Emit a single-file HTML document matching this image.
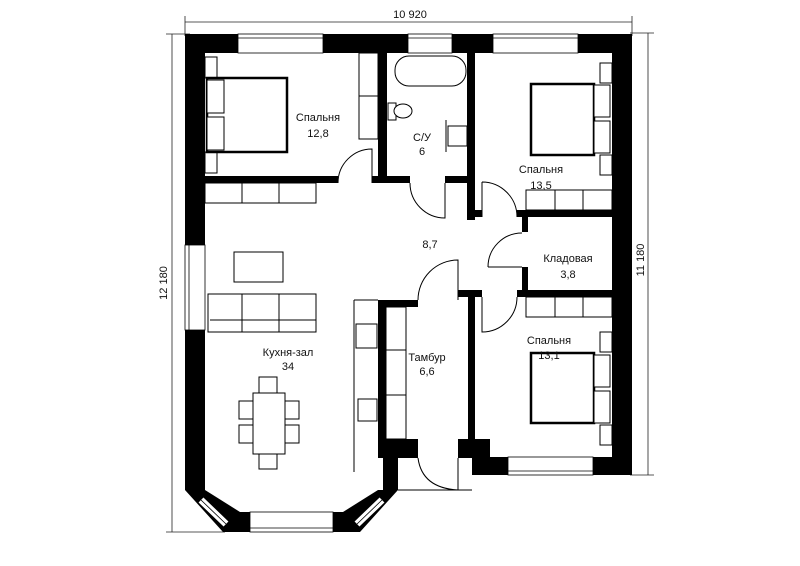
<!DOCTYPE html>
<html><head><meta charset="utf-8"><style>
html,body{margin:0;padding:0;background:#fff;}
svg{display:block;}
text{font-family:"Liberation Sans",sans-serif;font-size:11px;fill:#111;text-anchor:middle;}
</style></head><body>
<svg width="800" height="566" viewBox="0 0 800 566" xmlns="http://www.w3.org/2000/svg">
<rect width="800" height="566" fill="#fff"/>
<g stroke="#222" stroke-width="0.8" fill="none">
<line x1="185" y1="22" x2="632" y2="22"/><line x1="185" y1="16" x2="185" y2="36"/><line x1="632" y1="16" x2="632" y2="36"/>
<line x1="172" y1="34" x2="172" y2="532"/><line x1="166" y1="34" x2="190" y2="34"/><line x1="166" y1="532" x2="225" y2="532"/>
<line x1="648" y1="33" x2="648" y2="475"/><line x1="630" y1="33" x2="654" y2="33"/><line x1="630" y1="475" x2="654" y2="475"/>
</g>
<text x="410" y="18">10 920</text>
<text x="0" y="0" transform="translate(167,283) rotate(-90)">12 180</text>
<text x="0" y="0" transform="translate(644,260) rotate(-90)">11 180</text>

<g fill="#000">
<rect x="185" y="34" width="447" height="19"/>
<rect x="185" y="34" width="20" height="456"/>
<rect x="612" y="34" width="20" height="441"/>
<rect x="472" y="457" width="160" height="18"/>
<rect x="458" y="439" width="32" height="19"/>
<rect x="472" y="439" width="18" height="36"/>
<rect x="378" y="53" width="9" height="130"/>
<rect x="467" y="53" width="8" height="167"/>
<rect x="205" y="176" width="133" height="7"/>
<rect x="372" y="176" width="38" height="7"/>
<rect x="445" y="176" width="23" height="7"/>
<rect x="467" y="210" width="15" height="7"/>
<rect x="517" y="210" width="95" height="7"/>
<rect x="522" y="210" width="6" height="22"/>
<rect x="522" y="267" width="6" height="30"/>
<rect x="517" y="290" width="95" height="7"/>
<rect x="458" y="290" width="24" height="7"/>
<rect x="468" y="290" width="7" height="160"/>
<rect x="378" y="300" width="40" height="7"/>
<rect x="378" y="300" width="8" height="150"/>
<rect x="378" y="439" width="40" height="19"/>
<rect x="383" y="439" width="15" height="51"/>
<polygon points="185,490 205,490 240,512 240,532 223,532"/>
<rect x="223" y="512" width="137" height="20"/>
<polygon points="378,490 398,490 360,532 343,532 343,512"/>
</g>
<!-- diagonal windows -->
<g stroke-linecap="butt">
<line x1="201" y1="500" x2="226" y2="524" stroke="#000" stroke-width="9"/>
<line x1="201" y1="500" x2="226" y2="524" stroke="#fff" stroke-width="7"/>
<line x1="201" y1="500" x2="226" y2="524" stroke="#000" stroke-width="0.8"/>
<line x1="382" y1="500" x2="357" y2="524" stroke="#000" stroke-width="9"/>
<line x1="382" y1="500" x2="357" y2="524" stroke="#fff" stroke-width="7"/>
<line x1="382" y1="500" x2="357" y2="524" stroke="#000" stroke-width="0.8"/>
</g>
<line x1="398" y1="490" x2="472" y2="490" stroke="#000" stroke-width="1"/>
<g fill="#fff" stroke="#000" stroke-width="0.8">
<rect x="238" y="34" width="85" height="19"/>
<rect x="408" y="34" width="44" height="19"/>
<rect x="493" y="34" width="85" height="19"/>
<rect x="508" y="457" width="85" height="18"/>
<rect x="250" y="512" width="83" height="20"/>
<rect x="185" y="245" width="20" height="85"/>
</g>
<g stroke="#000" stroke-width="0.8" fill="none">
<line x1="238" y1="38" x2="323" y2="38"/><line x1="408" y1="38" x2="452" y2="38"/><line x1="493" y1="38" x2="578" y2="38"/>
<line x1="508" y1="471" x2="593" y2="471"/><line x1="250" y1="528" x2="333" y2="528"/><line x1="189" y1="245" x2="189" y2="330"/>
</g>

<g stroke="#000" stroke-width="1" fill="#fff">
<rect x="205" y="57" width="12" height="21"/><rect x="205" y="152" width="12" height="21"/>
<rect x="207" y="78" width="80" height="74" stroke-width="2.5"/>
<rect x="207" y="80" width="17" height="33"/><rect x="207" y="117" width="17" height="33"/>
<rect x="359" y="53" width="19" height="86"/><line x1="359" y1="96" x2="378" y2="96"/>
<rect x="205" y="183" width="111" height="20"/><line x1="242" y1="183" x2="242" y2="203"/><line x1="279" y1="183" x2="279" y2="203"/>
<rect x="395" y="56" width="71" height="30" rx="14"/>
<rect x="388" y="103" width="8" height="17"/><ellipse cx="403" cy="111" rx="9" ry="7"/>
<rect x="448" y="126" width="19" height="20"/><line x1="446" y1="120" x2="446" y2="152"/>
<rect x="600" y="63" width="12" height="20"/><rect x="600" y="155" width="12" height="20"/>
<rect x="531" y="84" width="63" height="71" stroke-width="2.5"/>
<rect x="594" y="85" width="16" height="32"/><rect x="594" y="121" width="16" height="32"/>
<rect x="526" y="190" width="86" height="20"/><line x1="555" y1="190" x2="555" y2="210"/><line x1="583" y1="190" x2="583" y2="210"/>
<rect x="526" y="297" width="86" height="20"/><line x1="555" y1="297" x2="555" y2="317"/><line x1="583" y1="297" x2="583" y2="317"/>
<rect x="600" y="332" width="12" height="20"/><rect x="600" y="425" width="12" height="20"/>
<rect x="531" y="353" width="63" height="70" stroke-width="2.5"/>
<rect x="594" y="355" width="16" height="32"/><rect x="594" y="391" width="16" height="32"/>
<rect x="234" y="252" width="49" height="30"/>
<rect x="208" y="294" width="108" height="38"/><line x1="210" y1="320" x2="316" y2="320"/><line x1="242" y1="294" x2="242" y2="332"/><line x1="279" y1="294" x2="279" y2="332"/>
<line x1="354" y1="300" x2="354" y2="472"/><line x1="354" y1="300" x2="378" y2="300"/>
<rect x="356" y="324" width="21" height="24"/>
<rect x="358" y="399" width="19" height="22"/>
<rect x="259" y="377" width="18" height="18"/><rect x="259" y="451" width="18" height="18"/>
<rect x="239" y="401" width="20" height="18"/><rect x="239" y="425" width="20" height="18"/>
<rect x="279" y="401" width="20" height="18"/><rect x="279" y="425" width="20" height="18"/>
<rect x="253" y="393" width="32" height="61"/>
<rect x="386" y="307" width="20" height="132"/><line x1="386" y1="350" x2="406" y2="350"/><line x1="386" y1="395" x2="406" y2="395"/>
</g>
<g stroke="#000" stroke-width="1" fill="none">
<path d="M338 183 A34 34 0 0 1 372 149 L372 183"/>
<path d="M410 183 A35 35 0 0 0 445 218 L445 183"/>
<path d="M482 182 A35 35 0 0 1 517 217 M482 182 L482 217"/>
<path d="M488 267 A34 34 0 0 1 522 233 M488 267 L522 267"/>
<path d="M517 297 A35 35 0 0 1 482 332 L482 297"/>
<path d="M418 300 A40 40 0 0 1 458 260 L458 300"/>
<path d="M418 458 Q422 488 458 490 L458 458"/>
</g>
<text x="318" y="121">Спальня</text><text x="318" y="137">12,8</text>
<text x="422" y="141">С/У</text><text x="422" y="155">6</text>
<text x="430" y="248">8,7</text>
<text x="541" y="173">Спальня</text><text x="541" y="189">13,5</text>
<text x="568" y="262">Кладовая</text><text x="568" y="278">3,8</text>
<text x="549" y="344">Спальня</text><text x="549" y="359">13,1</text>
<text x="288" y="356">Кухня-зал</text><text x="288" y="370">34</text>
<text x="427" y="361">Тамбур</text><text x="427" y="375">6,6</text>
</svg>
</body></html>
